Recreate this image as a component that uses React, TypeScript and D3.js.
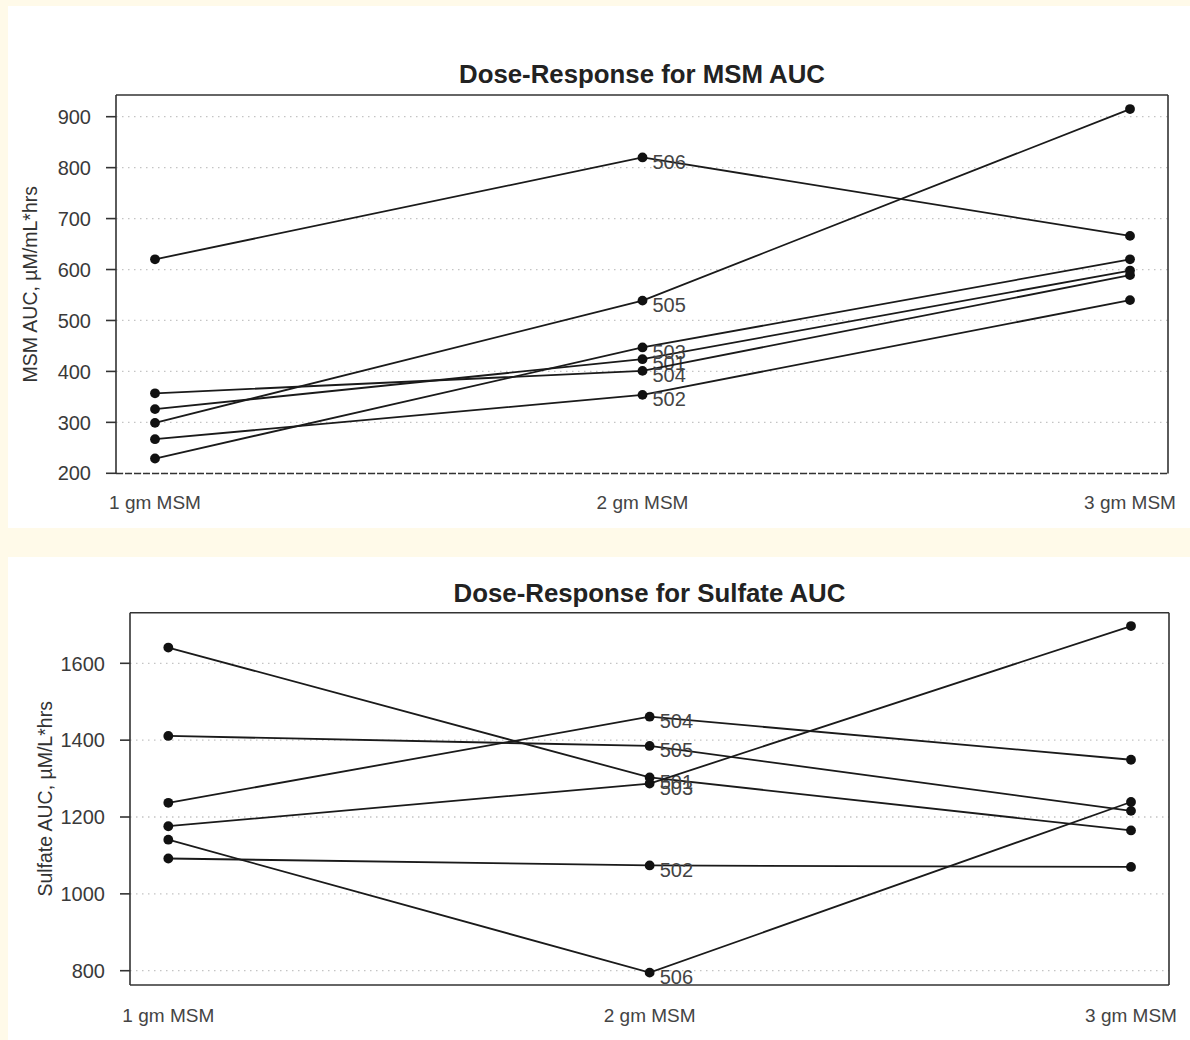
import React from "react";
import * as d3 from "d3";

// ---- data ----
const doses = ["1 gm MSM", "2 gm MSM", "3 gm MSM"];
const subjects = ["501", "502", "503", "504", "505", "506"];

// MSM AUC (µM/mL*hrs) per subject at 1, 2, 3 gm
const msm501 = [326, 424, 598];
const msm502 = [267, 354, 540];
const msm503 = [229, 447, 620];
const msm504 = [357, 401, 589];
const msm505 = [299, 539, 915];
const msm506 = [620, 820, 666];
const msmTicks = [200, 300, 400, 500, 600, 700, 800, 900];

// Sulfate AUC (µM/L*hrs) per subject at 1, 2, 3 gm
const sul501 = [1641, 1303, 1165];
const sul502 = [1092, 1074, 1070];
const sul503 = [1176, 1287, 1697];
const sul504 = [1237, 1461, 1349];
const sul505 = [1411, 1385, 1216];
const sul506 = [1141, 795, 1239];
const sulTicks = [800, 1000, 1200, 1400, 1600];

const msmSeries = [msm501, msm502, msm503, msm504, msm505, msm506];
const sulSeries = [sul501, sul502, sul503, sul504, sul505, sul506];

const FONT = "'Liberation Sans', Arial, Helvetica, sans-serif";

type PanelProps = {
  title: string;
  yLabel: string;
  series: number[][];
  ticks: number[];
  yDomain: [number, number];
  box: { l: number; r: number; t: number; b: number };
  xFirst: number;
  xLast: number;
  titleY: number;
  xLabelY: number;
  yLabelX: number;
  tickLabelX: number;
  dashedBottom: boolean;
};

function Panel(p: PanelProps) {
  const x = d3.scalePoint<string>().domain(doses).range([p.xFirst, p.xLast]);
  const y = d3.scaleLinear().domain(p.yDomain).range([p.box.b, p.box.t]);
  const line = d3
    .line<number>()
    .x((_, i) => x(doses[i]) as number)
    .y((d) => y(d));
  const cx = (p.box.l + p.box.r) / 2;
  const cy = (p.box.t + p.box.b) / 2;
  return (
    <g>
      {/* grid */}
      {p.ticks.map((t) => (
        <line
          key={"g" + t}
          x1={p.box.l}
          x2={p.box.r}
          y1={y(t)}
          y2={y(t)}
          stroke="#c4c4c4"
          strokeWidth={1.3}
          strokeDasharray="1.5,4.5"
        />
      ))}
      {/* box */}
      <line x1={p.box.l} x2={p.box.r} y1={p.box.t} y2={p.box.t} stroke="#333" strokeWidth={1.6} />
      <line x1={p.box.l} x2={p.box.l} y1={p.box.t} y2={p.box.b} stroke="#333" strokeWidth={1.6} />
      <line x1={p.box.r} x2={p.box.r} y1={p.box.t} y2={p.box.b} stroke="#333" strokeWidth={1.6} />
      <line
        x1={p.box.l}
        x2={p.box.r}
        y1={p.box.b}
        y2={p.box.b}
        stroke="#333"
        strokeWidth={1.6}
        strokeDasharray={p.dashedBottom ? "7,2" : undefined}
      />
      {/* y ticks */}
      {p.ticks.map((t) => (
        <g key={"t" + t}>
          <line x1={p.box.l - 10} x2={p.box.l} y1={y(t)} y2={y(t)} stroke="#333" strokeWidth={1.6} />
          <text
            x={p.tickLabelX}
            y={y(t)}
            dy="0.36em"
            textAnchor="end"
            fontSize={20}
            fontFamily={FONT}
            fill="#3a3a3a"
          >
            {t}
          </text>
        </g>
      ))}
      {/* x labels */}
      {doses.map((d) => (
        <text
          key={d}
          x={x(d) as number}
          y={p.xLabelY}
          textAnchor="middle"
          fontSize={19}
          fontFamily={FONT}
          fill="#444"
        >
          {d}
        </text>
      ))}
      {/* title */}
      <text
        x={cx}
        y={p.titleY}
        textAnchor="middle"
        fontSize={25.8}
        fontWeight="bold"
        fontFamily={FONT}
        fill="#222"
      >
        {p.title}
      </text>
      {/* y label */}
      <text
        transform={`translate(${p.yLabelX},${cy}) rotate(-90)`}
        textAnchor="middle"
        dy="0.36em"
        fontSize={19.5}
        fontFamily={FONT}
        fill="#333"
      >
        {p.yLabel}
      </text>
      {/* series */}
      {p.series.map((s, i) => (
        <g key={subjects[i]}>
          <path d={line(s) as string} fill="none" stroke="#1a1a1a" strokeWidth={1.8} />
          {s.map((v, j) => (
            <circle key={j} cx={x(doses[j]) as number} cy={y(v)} r={4.9} fill="#111" />
          ))}
          <text
            x={(x(doses[1]) as number) + 10}
            y={y(s[1]) + 4}
            dy="0.36em"
            fontSize={20}
            fontFamily={FONT}
            fill="#444"
          >
            {subjects[i]}
          </text>
        </g>
      ))}
    </g>
  );
}

export default function App() {
  return (
    <svg
      width={1190}
      height={1040}
      style={{ position: "absolute", left: 0, top: 0, display: "block" }}
    >
      <rect x={0} y={0} width={1190} height={1040} fill="#fffae9" />
      <rect x={8} y={6} width={1182} height={522} fill="#ffffff" />
      <rect x={8} y={557} width={1182} height={483} fill="#ffffff" />
      <Panel
        title="Dose-Response for MSM AUC"
        yLabel="MSM AUC, µM/mL*hrs"
        series={msmSeries}
        ticks={msmTicks}
        yDomain={[199.6, 942.6]}
        box={{ l: 116, r: 1168, t: 95, b: 473.5 }}
        xFirst={155}
        xLast={1130}
        titleY={82.5}
        xLabelY={509}
        yLabelX={30}
        tickLabelX={91}
        dashedBottom={true}
      />
      <Panel
        title="Dose-Response for Sulfate AUC"
        yLabel="Sulfate AUC, µM/L*hrs"
        series={sulSeries}
        ticks={sulTicks}
        yDomain={[762.8, 1731.7]}
        box={{ l: 130, r: 1169, t: 612.7, b: 985 }}
        xFirst={168.3}
        xLast={1131}
        titleY={601.7}
        xLabelY={1022}
        yLabelX={45}
        tickLabelX={105}
        dashedBottom={false}
      />
    </svg>
  );
}
